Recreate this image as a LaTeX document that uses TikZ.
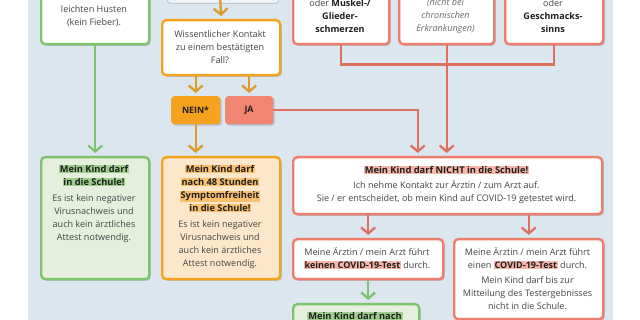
\documentclass[tikz,border=0pt]{standalone}
\usepackage{fontspec}
\setmainfont{Open Sans}
\usetikzlibrary{arrows.meta,shadows}
\definecolor{bgc}{HTML}{DCE6EE}
\definecolor{grn}{HTML}{7EC46C}
\definecolor{grnfill}{HTML}{E4F0DC}
\definecolor{grnhl}{HTML}{9CD08A}
\definecolor{org}{HTML}{F5A21E}
\definecolor{orgarr}{HTML}{E09A2C}
\definecolor{orgfill}{HTML}{FDE7CA}
\definecolor{orghl}{HTML}{FBC06E}
\definecolor{sal}{HTML}{EE7D6B}
\definecolor{salfill}{HTML}{F28571}
\definecolor{salhl}{HTML}{F8B6A6}
\definecolor{salarr}{HTML}{E0705E}
\definecolor{shd}{HTML}{B4BEC6}
\definecolor{txt}{HTML}{454545}
\definecolor{ttl}{HTML}{1E1E1E}
\definecolor{itl}{HTML}{6A6A6A}
\newcommand{\hlmark}[2]{{\setlength{\fboxsep}{0.8pt}\colorbox{#1}{#2}}}
\tikzset{
  box/.style={draw, line width=2.4pt, rounded corners=4pt, fill=white, inner sep=0pt,
    anchor=north west, drop shadow={shadow xshift=1.6pt, shadow yshift=-1.6pt, fill=shd, opacity=1}},
  tag/.style={rounded corners=3pt, inner sep=0pt, anchor=north west,
    drop shadow={shadow xshift=1.4pt, shadow yshift=-1.4pt, fill=shd, opacity=1}},
  tagtx/.style={inner sep=0pt, font=\fontsize{8.8pt}{10pt}\selectfont\bfseries, text=ttl},
  tx/.style={align=center, inner sep=0pt, text=txt, font=\fontsize{9.05pt}{13pt}\selectfont},
  tt/.style={align=center, inner sep=0pt, text=ttl, font=\fontsize{9.3pt}{13pt}\selectfont\bfseries},
  arr/.style={line width=2.3pt, shorten >=3pt, -{Straight Barb[length=6pt,width=14pt]}},
  arrG/.style={arr, draw=grn},
  arrO/.style={arr, draw=orgarr},
  arrR/.style={arr, draw=salarr},
}
\begin{document}
\begin{tikzpicture}[x=1pt,y=-1pt]
\useasboundingbox (0,0) rectangle (640,320);
\fill[bgc] (28,-5) rectangle (613,325);
\clip (0,0) rectangle (640,320);
% faint box at top
\node[draw=bgc!70!gray, fill=bgc!50!white, line width=1pt, rounded corners=3pt, anchor=north west,
  minimum width=111pt, minimum height=13pt, inner sep=0pt] (top) at (167,-10) {};
% top boxes
\node[box, draw=grn, minimum width=108pt, minimum height=63pt] (g1) at (40,-20) {};
\node[tx] (g1t) at (94,16) {leichten Husten\\(kein Fieber).};
\node[box, draw=sal, minimum width=96pt, minimum height=63pt] (r1) at (292,-20) {};
\node[tx] (r1t) at (340,16) {oder \textbf{\color{ttl}Muskel-/}\\\textbf{\color{ttl}Glieder-}\\\textbf{\color{ttl}schmerzen}};
\node[box, draw=sal, minimum width=95pt, minimum height=63pt] (r2) at (398,-20) {};
\node[tx, text=itl] (r2t) at (445.5,16) {\itshape (nicht bei\\\itshape chronischen\\\itshape Erkrankungen)};
\node[box, draw=sal, minimum width=98pt, minimum height=63pt] (r3) at (504,-20) {};
\node[tx] (r3t) at (553,16) {oder\\\textbf{\color{ttl}Geschmacks-}\\\textbf{\color{ttl}sinns}};
% question
\node[box, draw=org, minimum width=118pt, minimum height=55pt] (q) at (161,19) {};
\node[tx] (qt) at (220,47) {Wissentlicher Kontakt\\zu einem bestätigten\\Fall?};
\node[tag, fill=org, minimum width=49pt, minimum height=28pt] (nein) at (171,96) {};
\node[tagtx] (neint) at (195.5,110) {NEIN*};
\node[tag, fill=salfill, minimum width=48pt, minimum height=28pt] (ja) at (225,96) {};
\node[tagtx] (jat) at (249,110) {JA};
% results
\node[box, draw=grn, fill=grnfill, minimum width=108pt, minimum height=122pt] (G) at (40,156) {};
\node[tt] (Gh) at (94,175.5) {\hlmark{grnhl}{Mein Kind darf}\\\hlmark{grnhl}{in die Schule!}};
\node[tx] (Gb) at (94,218.5) {Es ist kein negativer\\Virusnachweis und\\auch kein ärztliches\\Attest notwendig.};
\node[box, draw=org, fill=orgfill, minimum width=118pt, minimum height=122pt] (O) at (161,156) {};
\node[tt] (Oh) at (220,188.5) {\hlmark{orghl}{Mein Kind darf}\\\hlmark{orghl}{nach 48 Stunden}\\\hlmark{orghl}{Symptomfreiheit}\\\hlmark{orghl}{in die Schule!}};
\node[tx] (Ob) at (220,244.5) {Es ist kein negativer\\Virusnachweis und\\auch kein ärztliches\\Attest notwendig.};
\node[box, draw=sal, minimum width=309pt, minimum height=57pt] (R) at (292,156) {};
\node[tt] (Rh) at (446.5,170) {\hlmark{salhl}{Mein Kind darf NICHT in die Schule!}};
\node[tx] (Rb) at (446.5,192) {Ich nehme Kontakt zur Ärztin / zum Arzt auf.\\Sie / er entscheidet, ob mein Kind auf COVID-19 getestet wird.};
\node[box, draw=sal, minimum width=150pt, minimum height=40pt] (K) at (292,238) {};
\node[tx] (Kt) at (367,258.5) {Meine Ärztin / mein Arzt führt\\\hlmark{salhl}{\textbf{\color{ttl}keinen COVID-19-Test}} durch.};
\node[box, draw=sal, minimum width=149pt, minimum height=80pt] (E) at (453,238) {};
\node[tx] (Et) at (527.5,258.5) {Meine Ärztin / mein Arzt führt\\einen \hlmark{salhl}{\textbf{\color{ttl}COVID-19-Test}} durch.};
\node[tx] (Eb) at (527.5,293.5) {Mein Kind darf bis zur\\Mitteilung des Testergebnisses\\nicht in die Schule.};
\node[box, draw=grn, fill=grnfill, minimum width=126pt, minimum height=40pt] (B) at (292,303) {};
\node[tt] (Bh) at (355,316) {\hlmark{grnhl}{Mein Kind darf nach}};
% connectors
\coordinate (qin) at (220,-6);
\draw[arrO] (qin) -- (q.north);
\draw[arrG] (g1.south) -- (G.north);
\draw[arrO] (q.south -| nein) -- (nein.north);
\draw[arrO] (q.south -| ja) -- (ja.north);
\draw[arrO] (nein.south) -- (nein.south |- O.north);
\draw[arrR] (ja.east) -| ([xshift=-30pt]R.north);
\draw[arrR] (r2.south) -- (r2.south |- R.north);
\draw[salarr, line width=2.3pt] (r1.south) -- ++(0,19) -| (r3.south);
\draw[arrR] (K.north |- R.south) -- (K.north);
\draw[arrR] (E.north |- R.south) -- (E.north);
\draw[arrG] (K.south) -- (K.south |- B.north);
\end{tikzpicture}
\end{document}
